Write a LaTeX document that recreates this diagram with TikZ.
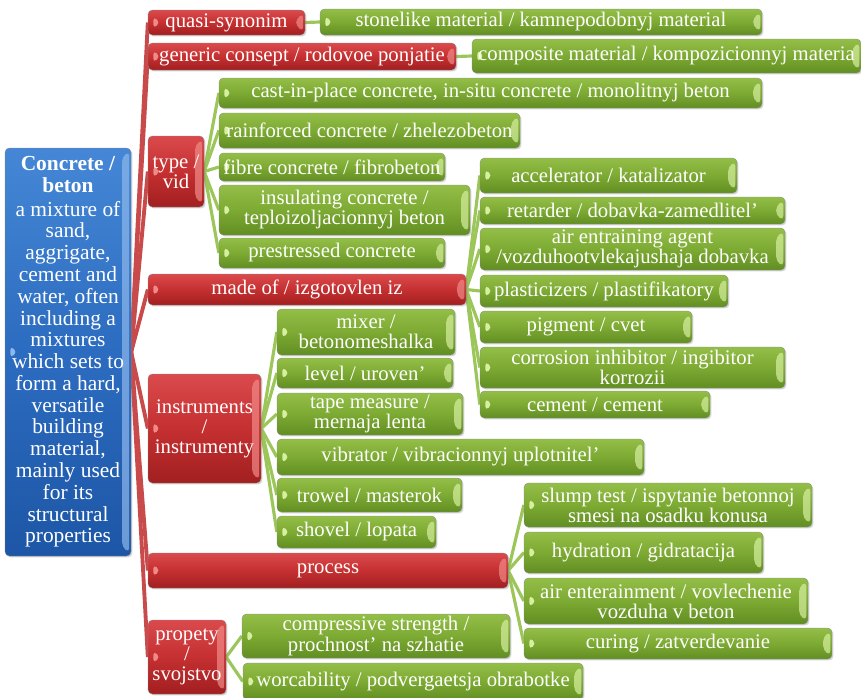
\documentclass[tikz,border=0pt]{standalone}
\usepackage{fontspec}
\setmainfont{Liberation Serif}
\usetikzlibrary{shadows,backgrounds}

\definecolor{redtop}{HTML}{DA4A4C}
\definecolor{redmid}{HTML}{C53031}
\definecolor{redbot}{HTML}{A21F20}
\definecolor{redlight}{HTML}{F08A88}
\definecolor{greentop}{HTML}{93BE48}
\definecolor{greenmid}{HTML}{7DAA33}
\definecolor{greenbot}{HTML}{618E22}
\definecolor{greenlight}{HTML}{D6EFA0}
\definecolor{bluetop}{HTML}{4587D6}
\definecolor{bluemid}{HTML}{2C6CC0}
\definecolor{bluebot}{HTML}{1D56A6}
\definecolor{bluelight}{HTML}{8DB8EC}
\definecolor{redline}{HTML}{C94A4B}
\definecolor{greenline}{HTML}{9CC65A}

\tikzset{
  zone/.style n args={4}{minimum width={(#3-#1)*0.02cm}, minimum height={(#4-#2)*0.02cm},
    at={({(#1+#3)/2},{(#2+#4)/2})}},
  box/.style={rounded corners=2.5pt, draw=black!45, very thin, inner sep=0pt,
    text=white, align=center, font=\fontsize{11.8}{11.4}\selectfont,
    drop shadow={shadow xshift=0.8pt, shadow yshift=-0.8pt, opacity=0.35},
    path picture={
      \fill[#1] ([xshift=3pt,yshift=3.5pt]path picture bounding box.west) -- ++(4pt,-3.5pt) -- ++(-4pt,-3.5pt) -- cycle;
      \fill[#1, opacity=0.7] ([xshift=-1pt,yshift=-2pt]path picture bounding box.north east)
        -- ([xshift=-5pt,yshift=-5pt]path picture bounding box.north east)
        -- ([xshift=-5pt,yshift=5pt]path picture bounding box.south east)
        -- ([xshift=-1pt,yshift=2pt]path picture bounding box.south east) -- cycle;
    }},
  redbox/.style={box=redlight, top color=redtop, bottom color=redbot, middle color=redmid},
  greenbox/.style={box=greenlight, top color=greentop, bottom color=greenbot, middle color=greenmid},
  bluebox/.style={box=bluelight, top color=bluetop, bottom color=bluebot, middle color=bluemid,
    font=\fontsize{12.2}{12.4}\selectfont},
  redlink/.style={draw=redline, line width=2.2pt},
  greenlink/.style={draw=greenline, line width=1.8pt}
}

\begin{document}
\begin{tikzpicture}[x=0.02cm, y=-0.02cm]
\useasboundingbox (0,0) rectangle (861,697);

% root
\node[bluebox, zone={5}{148}{131}{556}] (root) {\textbf{Concrete /}\\\textbf{beton}\\[1pt]
  a mixture of\\ sand,\\ aggrigate,\\ cement and\\ water, often\\ including a\\ mixtures\\
  which sets to\\ form a hard,\\ versatile\\ building\\ material,\\ mainly used\\ for its\\
  structural\\ properties};

% red branches
\node[redbox, zone={148}{10}{305}{35}] (qs) {quasi-synonim};
\node[redbox, zone={148}{43}{456}{70}] (gen) {generic consept / rodovoe ponjatie};
\node[redbox, zone={148}{136}{204}{207}] (typ) {type /\\ vid};
\node[redbox, zone={148}{274}{466}{305}] (made) {made of / izgotovlen iz};
\node[redbox, zone={148}{374}{261}{483}] (inst) {instruments\\ /\\ instrumenty};
\node[redbox, zone={148}{553}{508}{588}] (proc) {process};
\node[redbox, zone={148}{620}{226}{694}] (prop) {propety\\ /\\ svojstvo};

% quasi-synonim, generic concept
\node[greenbox, zone={320}{9}{762}{35}] (syn) {stonelike material / kamnepodobnyj material};
\node[greenbox, zone={472}{39}{861}{73}] (comp) {composite material / kompozicionnyj materia};

% type / vid
\node[greenbox, zone={219}{78}{762}{108}] (cast) {cast-in-place concrete, in-situ concrete / monolitnyj beton};
\node[greenbox, zone={219}{113}{520}{148}] (rain) {rainforced concrete / zhelezobeton};
\node[greenbox, zone={219}{153}{445}{181}] (fibre) {fibre concrete / fibrobeton};
\node[greenbox, zone={219}{185}{470}{235}] (insul) {insulating concrete /\\ teploizoljacionnyj beton};
\node[greenbox, zone={219}{238}{445}{268}] (pre) {prestressed concrete};

% made of
\node[greenbox, zone={480}{158}{737}{193}] (acc) {accelerator / katalizator};
\node[greenbox, zone={480}{197}{785}{224}] (ret) {retarder / dobavka-zamedlitel'};
\node[greenbox, zone={480}{228}{785}{270}] (air) {air entraining agent\\ /vozduhootvlekajushaja dobavka};
\node[greenbox, zone={480}{275}{728}{307}] (plast) {plasticizers / plastifikatory};
\node[greenbox, zone={480}{311}{692}{343}] (pig) {pigment / cvet};
\node[greenbox, zone={480}{347}{785}{388}] (corr) {corrosion inhibitor / ingibitor\\ korrozii};
\node[greenbox, zone={480}{391}{710}{418}] (cem) {cement / cement};

% instruments
\node[greenbox, zone={277}{309}{455}{355}] (mix) {mixer /\\ betonomeshalka};
\node[greenbox, zone={277}{358}{453}{388}] (lev) {level / uroven'};
\node[greenbox, zone={277}{393}{463}{435}] (tape) {tape measure /\\ mernaja lenta};
\node[greenbox, zone={277}{439}{644}{475}] (vib) {vibrator / vibracionnyj uplotnitel'};
\node[greenbox, zone={277}{478}{462}{512}] (trow) {trowel / masterok};
\node[greenbox, zone={277}{516}{436}{548}] (shov) {shovel / lopata};

% process
\node[greenbox, zone={524}{483}{812}{527}] (slump) {slump test / ispytanie betonnoj\\ smesi na osadku konusa};
\node[greenbox, zone={524}{532}{763}{573}] (hyd) {hydration / gidratacija};
\node[greenbox, zone={524}{578}{808}{624}] (airent) {air enterainment / vovlechenie\\ vozduha v beton};
\node[greenbox, zone={524}{628}{832}{659}] (cur) {curing / zatverdevanie};

% propety
\node[greenbox, zone={242}{614}{510}{658}] (compr) {compressive strength /\\ prochnost' na szhatie};
\node[greenbox, zone={243}{663}{583}{700}] (work) {worcability / podvergaetsja obrabotke};

% connectors
\begin{scope}[on background layer]
\foreach \t in {qs,gen,typ,made,inst,proc,prop}
  \draw[redlink] (root.east) -- (\t.west);
\draw[greenlink] (qs.east) -- (syn.west);
\draw[greenlink] (gen.east) -- (comp.west);
\foreach \t in {cast,rain,fibre,insul,pre}
  \draw[greenlink] (typ.east) -- (\t.west);
\foreach \t in {acc,ret,air,plast,pig,corr,cem}
  \draw[greenlink] (made.east) -- (\t.west);
\foreach \t in {mix,lev,tape,vib,trow,shov}
  \draw[greenlink] (inst.east) -- (\t.west);
\foreach \t in {slump,hyd,airent,cur}
  \draw[greenlink] (proc.east) -- (\t.west);
\foreach \t in {compr,work}
  \draw[greenlink] (prop.east) -- (\t.west);
\end{scope}

\end{tikzpicture}
\end{document}
